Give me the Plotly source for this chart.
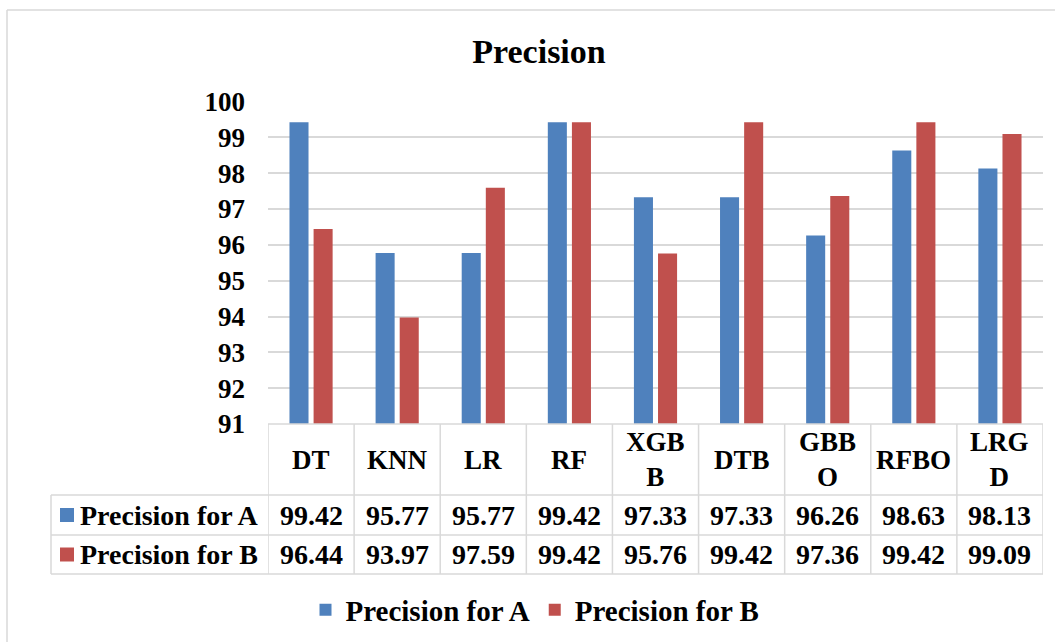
import plotly.graph_objects as go

categories = ["DT", "KNN", "LR", "RF", "XGBB", "DTB", "GBBO", "RFBO", "LRGD"]
header_labels = ["DT", "KNN", "LR", "RF", "XGB<br>B", "DTB", "GBB<br>O", "RFBO", "LRG<br>D"]
series_names = ["Precision for A", "Precision for B"]
precision_a = [99.42, 95.77, 95.77, 99.42, 97.33, 97.33, 96.26, 98.63, 98.13]
precision_b = [96.44, 93.97, 97.59, 99.42, 95.76, 99.42, 97.36, 99.42, 99.09]
y_ticks = [91, 92, 93, 94, 95, 96, 97, 98, 99, 100]
title_text = "Precision"

W, H = 1055, 642
BLUE = "#4F81BD"
RED = "#C0504D"
GRID = "#D9D9D9"
FONT = "Liberation Serif"


def px(x):
    return x / W


def py(y):
    return 1 - y / H


# layout geometry (pixels)
plot_left, plot_right = 268, 1043
plot_top, plot_bottom = 101.5, 424
row_lines = [424, 495, 535, 574]
table_left = 51

fig = go.Figure()
fig.add_trace(go.Bar(x=categories, y=precision_a, name=series_names[0],
                     marker=dict(color=BLUE, line=dict(width=0))))
fig.add_trace(go.Bar(x=categories, y=precision_b, name=series_names[1],
                     marker=dict(color=RED, line=dict(width=0))))

shapes = []
line_style = dict(color=GRID, width=1.5)
# chart border (top and left visible)
shapes.append(dict(type="line", xref="paper", yref="paper", x0=px(7), x1=px(1060),
                   y0=py(10), y1=py(10), line=dict(color=GRID, width=1.5)))
shapes.append(dict(type="line", xref="paper", yref="paper", x0=px(7), x1=px(7),
                   y0=py(10), y1=py(650), line=dict(color=GRID, width=1.5)))
# table horizontal lines
shapes.append(dict(type="line", xref="x", yref="paper", x0=-0.5, x1=len(categories) - 0.5,
                   y0=py(row_lines[0]), y1=py(row_lines[0]), line=line_style))
for yl in row_lines[1:]:
    shapes.append(dict(type="line", xref="paper", yref="paper", x0=px(table_left), x1=px(plot_right),
                       y0=py(yl), y1=py(yl), line=line_style))
# table vertical lines
shapes.append(dict(type="line", xref="paper", yref="paper", x0=px(table_left), x1=px(table_left),
                   y0=py(row_lines[1]), y1=py(row_lines[3]), line=line_style))
for k in range(len(categories) + 1):
    shapes.append(dict(type="line", xref="x", yref="paper", x0=k - 0.5, x1=k - 0.5,
                       y0=py(row_lines[0]), y1=py(row_lines[3]), line=line_style))

annotations = []
cell_font = dict(family=FONT, size=28, color="black", weight="bold")
header_c = (row_lines[0] + row_lines[1]) / 2
row_centers = [(row_lines[1] + row_lines[2]) / 2, (row_lines[2] + row_lines[3]) / 2]
for cat, lab in zip(categories, header_labels):
    annotations.append(dict(x=cat, xref="x", y=py(header_c), yref="paper", text=lab,
                            showarrow=False, font=dict(cell_font, size=27), xanchor="center",
                            yanchor="middle"))
for vals, yc in zip([precision_a, precision_b], row_centers):
    for cat, v in zip(categories, vals):
        annotations.append(dict(x=cat, xref="x", y=py(yc), yref="paper", text=f"{v:.2f}",
                                showarrow=False, font=cell_font, xanchor="center", yanchor="middle"))
# row legend keys
for name, color, yc in zip(series_names, [BLUE, RED], row_centers):
    shapes.append(dict(type="rect", xref="paper", yref="paper", x0=px(60), x1=px(74),
                       y0=py(yc - 7), y1=py(yc + 7), fillcolor=color, line=dict(width=0)))
    annotations.append(dict(x=px(78), xref="paper", y=py(yc), yref="paper", text=name,
                            showarrow=False, font=cell_font, xanchor="left", yanchor="middle"))

fig.update_layout(
    width=W, height=H,
    margin=dict(l=0, r=0, t=0, b=0, autoexpand=False),
    paper_bgcolor="white", plot_bgcolor="white",
    font=dict(family=FONT, color="black"),
    title=dict(text=title_text, x=px(539), xanchor="center", y=py(51), yanchor="middle",
               font=dict(family=FONT, size=34, color="black", weight="bold")),
    barmode="group", bargap=0.44, bargroupgap=0.21,
    xaxis=dict(type="category", domain=[px(plot_left), px(plot_right)], range=[-0.5, len(categories) - 0.5],
               showticklabels=False, showgrid=False, zeroline=False, showline=False, ticks=""),
    yaxis=dict(domain=[py(plot_bottom), py(plot_top)], range=[91, 100], tickvals=y_ticks,
               showgrid=True, gridcolor=GRID, gridwidth=1.5, zeroline=False, showline=False, ticks="",
               ticklabelstandoff=22, automargin=False,
               tickfont=dict(family=FONT, size=27, color="black", weight="bold")),
    showlegend=True,
    legend=dict(orientation="h", x=px(535), xanchor="center", y=py(610), yanchor="middle",
                font=dict(family=FONT, size=29, color="black", weight="bold"),
                bgcolor="rgba(0,0,0,0)"),
    shapes=shapes,
    annotations=annotations,
)

fig.write_html("out.html")
